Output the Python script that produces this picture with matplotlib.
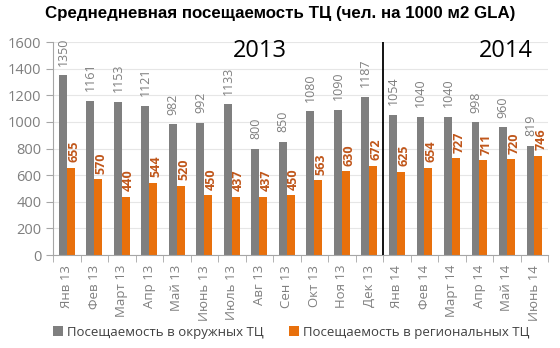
import matplotlib.pyplot as plt
import numpy as np

plt.rcParams["font.family"] = ["Open Sans", "DejaVu Sans"]

months = ["Янв 13", "Фев 13", "Март 13", "Апр 13", "Май 13", "Июнь 13", "Июль 13",
          "Авг 13", "Сен 13", "Окт 13", "Ноя 13", "Дек 13", "Янв 14", "Фев 14",
          "Март 14", "Апр 14", "Май 14", "Июнь 14"]
okr = [1350, 1161, 1153, 1121, 982, 992, 1133, 800, 850, 1080, 1090, 1187,
       1054, 1040, 1040, 998, 960, 819]
reg = [655, 570, 440, 544, 520, 450, 437, 437, 450, 563, 630, 672,
       625, 654, 727, 711, 720, 746]

GRAY = "#7f7f7f"
ORANGE = "#e8700c"
LBL_OR = "#c0561a"
TXT = "#7f7f7f"

fig = plt.figure(figsize=(5.6, 3.48), dpi=100)
ax = fig.add_axes([0.095, 0.267, 0.884, 0.612])

x = np.arange(len(months))
w = 0.29
b1 = ax.bar(x - w / 2, okr, w, color=GRAY, label="Посещаемость в окружных ТЦ", zorder=2)
b2 = ax.bar(x + w / 2, reg, w, color=ORANGE, label="Посещаемость в региональных ТЦ", zorder=2)

for xi, v in zip(x, okr):
    ax.annotate(str(v), (xi - w / 2, v), xytext=(0, 7), textcoords="offset points",
                rotation=90, ha="center", va="bottom", fontsize=9, color=TXT)
for xi, v in zip(x, reg):
    ax.annotate(str(v), (xi + w / 2, v), xytext=(2, 4), textcoords="offset points",
                rotation=90, ha="center", va="bottom", fontsize=9, color=LBL_OR,
                fontweight="bold")

ax.set_xlim(-0.5, len(months) - 0.5)
ax.set_ylim(0, 1600)
ax.set_yticks(range(0, 1601, 200))
ax.yaxis.grid(True, color="#e6e6e6", lw=0.8, zorder=0)
ax.set_axisbelow(True)

ax.set_xticks(x)
ax.set_xticklabels(months, rotation=90, fontsize=9.5, color=TXT)
ax.set_xticks(np.arange(-0.5, len(months)), minor=True)
ax.tick_params(axis="x", which="major", length=0, pad=7)
ax.tick_params(axis="x", which="minor", length=5, color="#a6a6a6")
ax.tick_params(axis="y", labelsize=10.5, labelcolor=TXT, length=5, color="#a6a6a6")

for s in ["top", "right"]:
    ax.spines[s].set_visible(False)
for s in ["left", "bottom"]:
    ax.spines[s].set_color("#a6a6a6")

# divider between years
ax.plot([11.5, 11.5], [0, 1600], color="black", lw=1.3, zorder=3)
ax.text(7.0, 1530, "2013", fontsize=17, ha="center", va="center", color="black")
ax.text(15.95, 1530, "2014", fontsize=17, ha="center", va="center", color="black")

fig.text(0.5, 0.96, "Среднедневная посещаемость ТЦ (чел. на 1000 м2 GLA)",
         ha="center", va="center", fontsize=12.2, fontweight="bold",
         family=["Liberation Sans", "DejaVu Sans"])

fig.legend(handles=[b1, b2], loc="center", bbox_to_anchor=(0.52, 0.045), ncol=2,
           frameon=False, fontsize=9.5, handlelength=0.8, handleheight=0.8,
           handletextpad=0.3, columnspacing=1.9, labelcolor="#404040")

fig.savefig("out.png", dpi=100)
